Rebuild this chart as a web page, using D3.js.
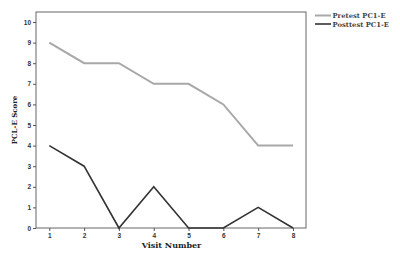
<!DOCTYPE html>
<html><head><meta charset="utf-8">
<script src="https://cdn.jsdelivr.net/npm/d3@7/dist/d3.min.js"></script>
<style>body{margin:0;background:#fff}svg{display:block}</style>
</head><body>
<svg id="c" width="400" height="254"></svg>
<script>
const visits = [1,2,3,4,5,6,7,8];
const pretest = [9,8,8,7,7,6,4,4];
const posttest = [4,3,0,2,0,0,1,0];
const yTicks = [0,1,2,3,4,5,6,7,8,9,10];
const seriesNames = ["Pretest PC1-E","Posttest PC1-E"];
const colors = ["#a8a8a8","#333333"];

const svg = d3.select("#c");
const L=36, T=12, R=306, B=228;
const x = d3.scaleLinear().domain([1,8]).range([49.3,293]);
const y = d3.scaleLinear().domain([0,10]).range([B,22]);
const serif = "DejaVu Serif, Liberation Serif, serif";

svg.append("rect").attr("x",L).attr("y",T).attr("width",R-L).attr("height",B-T)
  .attr("fill","none").attr("stroke","#666").attr("stroke-width",1);

const xa = svg.append("g").attr("transform",`translate(0,${B})`)
  .call(d3.axisBottom(x).tickValues(visits).tickSize(3).tickPadding(2).tickFormat(d3.format("d")));
const ya = svg.append("g").attr("transform",`translate(${L},0)`)
  .call(d3.axisLeft(y).tickValues(yTicks).tickSize(3).tickPadding(2).tickFormat(d3.format("d")));
[xa,ya].forEach(a=>{
  a.select(".domain").remove();
  a.selectAll("line").attr("stroke","#555");
  a.selectAll("text").attr("font-family","Liberation Sans, Arial, sans-serif")
   .attr("font-size",6.5).attr("font-weight","bold").attr("fill","#333");
});

const line = d3.line().x((d,i)=>x(visits[i])).y(d=>y(d));
[pretest,posttest].forEach((s,k)=>{
  svg.append("path").datum(s).attr("d",line).attr("fill","none")
    .attr("stroke",colors[k]).attr("stroke-width",k===0?2:1.6);
});

svg.append("text").attr("x",171.5).attr("y",248).attr("text-anchor","middle")
  .attr("font-family",serif).attr("font-weight","bold")
  .attr("font-size",8).attr("fill","#222").text("Visit Number");
svg.append("text").attr("transform",`translate(17,120) rotate(-90)`)
  .attr("text-anchor","middle")
  .attr("font-family",serif).attr("font-weight","bold")
  .attr("font-size",7).attr("fill","#222").text("PCL-E Score");

seriesNames.forEach((n,k)=>{
  const yy = 15.5 + k*8.5;
  svg.append("line").attr("x1",315).attr("x2",331).attr("y1",yy).attr("y2",yy)
    .attr("stroke",colors[k]).attr("stroke-width",k===0?2:1.6);
  svg.append("text").attr("x",332.5).attr("y",yy+2.6)
    .attr("font-family",serif).attr("font-weight","bold")
    .attr("font-size",6.8).attr("fill","#444").text(n);
});
</script>
</body></html>
